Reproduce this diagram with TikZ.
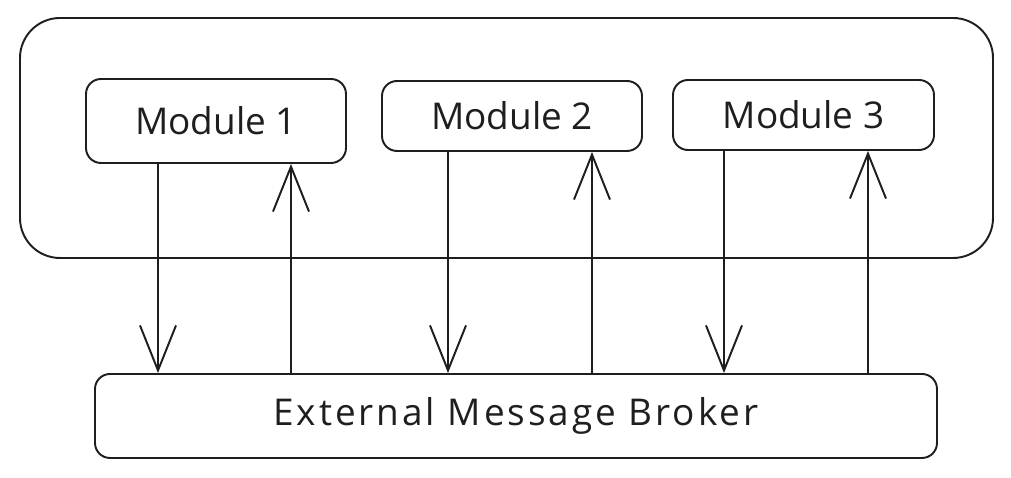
\documentclass[tikz,border=0pt]{standalone}
\usepackage{fontspec}
\setmainfont{Open Sans}
\usetikzlibrary{positioning, arrows.meta, calc}
\definecolor{ink}{HTML}{1E1E1E}

\begin{document}
\begin{tikzpicture}[
    every path/.style={color=ink, line width=1.1pt},
    module/.style={draw, rounded corners=0.3cm, minimum width=5.2cm, minimum height=1.4cm, font=\fontsize{21}{25}\selectfont, text=ink},
    flow/.style={-{Straight Barb[length=9mm, width=7.2mm]}}
    ]
    \useasboundingbox (0,0) rectangle (20.22,9.56);
    \draw[rounded corners=0.8cm] (0.40,4.40) rectangle (19.86,9.20);
    \node[module, minimum height=1.68cm] (mod1) at (4.32,7.14) {Module 1};
    \node[module] (mod2) at (10.24,7.24) {Module 2};
    \node[module, minimum width=5.22cm] (mod3) at (16.07,7.26) {Module 3};
    \node[module, minimum width=16.84cm, minimum height=1.68cm, font=\fontsize{21}{25}\selectfont\addfontfeature{LetterSpace=8}] (broker) at (10.32,1.24) {External Message Broker};
    \draw[flow] ([xshift=-1.16cm]mod1.south) -- ([xshift=-1.16cm]mod1.south |- broker.north);
    \draw[flow] ([xshift=1.50cm]mod1.south |- broker.north) -- ([xshift=1.50cm]mod1.south);
    \draw[flow] ([xshift=-1.28cm]mod2.south) -- ([xshift=-1.28cm]mod2.south |- broker.north);
    \draw[flow] ([xshift=1.60cm]mod2.south |- broker.north) -- ([xshift=1.60cm]mod2.south);
    \draw[flow] ([xshift=-1.59cm]mod3.south) -- ([xshift=-1.59cm]mod3.south |- broker.north);
    \draw[flow] ([xshift=1.29cm]mod3.south |- broker.north) -- ([xshift=1.29cm]mod3.south);
\end{tikzpicture}
\end{document}
